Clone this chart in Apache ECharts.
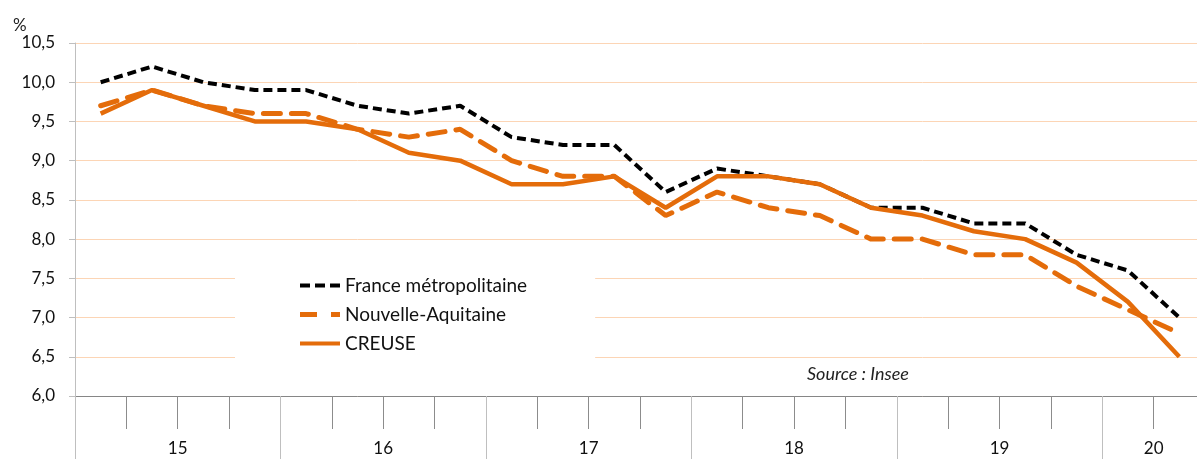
<!DOCTYPE html>
<html>
<head>
<meta charset="utf-8">
<script src="https://cdn.jsdelivr.net/npm/echarts@6/dist/echarts.min.js"></script>
<style>
  html, body { margin: 0; padding: 0; background: #fff; overflow: hidden; }
  /* the plot runs past the right edge of the window, as in the original */
  #chart { width: 1208px; height: 459px; }
</style>
</head>
<body>
<div id="chart"></div>
<script>
// trimestres 2015T1 .. 2020T2
let quarters = ['2015T1', '2015T2', '2015T3', '2015T4', '2016T1', '2016T2', '2016T3', '2016T4',
    '2017T1', '2017T2', '2017T3', '2017T4', '2018T1', '2018T2', '2018T3', '2018T4',
    '2019T1', '2019T2', '2019T3', '2019T4', '2020T1', '2020T2']
let years = ['15', '16', '17', '18', '19', '20']
let quartersPerYear = [4, 4, 4, 4, 4, 2]

let france = [10.0, 10.2, 10.0, 9.9, 9.9, 9.7, 9.6, 9.7, 9.3, 9.2, 9.2, 8.6,
    8.9, 8.8, 8.7, 8.4, 8.4, 8.2, 8.2, 7.8, 7.6, 7.0]
let nouvelleAquitaine = [9.7, 9.9, 9.7, 9.6, 9.6, 9.4, 9.3, 9.4, 9.0, 8.8, 8.8, 8.3,
    8.6, 8.4, 8.3, 8.0, 8.0, 7.8, 7.8, 7.4, 7.1, 6.8]
let creuse = [9.6, 9.9, 9.7, 9.5, 9.5, 9.4, 9.1, 9.0, 8.7, 8.7, 8.8, 8.4,
    8.8, 8.8, 8.7, 8.4, 8.3, 8.1, 8.0, 7.7, 7.2, 6.5]

let font = 'Lato, "Liberation Sans", sans-serif'
let orange = '#E46C0A'

// axe des années : une entrée par limite de trimestre, libellé au milieu de chaque année
let yearAxis = new Array(quarters.length + 1).fill('')
let start = 0
for (let i in years) {
    yearAxis[start + quartersPerYear[i] / 2] = years[i]
    start += quartersPerYear[i]
}

let chart = echarts.init(document.querySelector('#chart'))
let option = {
    animation: false,
    textStyle: { fontFamily: font },
    title: [
        {
            text: '%',
            left: 8,
            top: 12,
            textStyle: { fontSize: 17, fontWeight: 'normal', color: '#222', fontFamily: font }
        },
        {
            text: 'Source : Insee',
            left: 802,
            top: 360,
            textStyle: { fontSize: 18, fontWeight: 'normal', fontStyle: 'italic', color: '#222', fontFamily: font }
        }
    ],
    legend: {
        orient: 'vertical',
        left: 235,
        top: 262,
        padding: [14, 68, 12, 65],
        backgroundColor: '#fff',
        itemWidth: 40,
        itemHeight: 5,
        itemGap: 10,
        textStyle: { fontSize: 19, color: '#111', fontFamily: font },
        data: [
            {
                name: 'France métropolitaine',
                icon: 'path://M0,0h10v4h-10zM15,0h10v4h-10zM30,0h10v4h-10z',
                itemStyle: { color: '#000' }
            },
            {
                name: 'Nouvelle-Aquitaine',
                icon: 'path://M0,0h17v5h-17zM31,0h9v5h-9z',
                itemStyle: { color: orange }
            },
            {
                name: 'CREUSE',
                icon: 'path://M0,0h40v4h-40z',
                itemStyle: { color: orange }
            }
        ]
    },
    grid: {
        left: 75,
        top: 43,
        right: 0,
        bottom: 63
    },
    xAxis: [
        {
            type: 'category',
            data: quarters,
            position: 'bottom',
            boundaryGap: true,
            axisLine: { show: true, lineStyle: { color: '#868686', width: 1 } },
            axisTick: { show: true, interval: 0, length: 33, lineStyle: { color: '#8c8c8c' } },
            axisLabel: { show: false }
        },
        {
            type: 'category',
            data: yearAxis,
            position: 'bottom',
            boundaryGap: false,
            axisLine: { show: false },
            axisTick: {
                show: true,
                interval: function (index) { return index % 4 === 0 },
                length: 66,
                lineStyle: { color: '#bfbfbf' }
            },
            axisLabel: { interval: 0, margin: 44, fontSize: 17, color: '#111', fontFamily: font }
        }
    ],
    yAxis: {
        type: 'value',
        min: 6,
        max: 10.5,
        interval: 0.5,
        axisLine: { show: true, lineStyle: { color: '#bfbfbf' } },
        axisTick: { show: true, length: 6, lineStyle: { color: '#bfbfbf' } },
        splitLine: { lineStyle: { color: '#FCD5B5', width: 1 } },
        axisLabel: {
            margin: 20,
            fontSize: 17,
            color: '#111',
            fontFamily: font,
            formatter: function (v) { return v.toFixed(1).replace('.', ',') }
        }
    },
    series: [
        {
            name: 'France métropolitaine',
            type: 'line',
            data: france,
            symbol: 'none',
            z: 3,
            lineStyle: { color: '#000', width: 4, type: [9, 5] },
            itemStyle: { color: '#000' }
        },
        {
            name: 'Nouvelle-Aquitaine',
            type: 'line',
            data: nouvelleAquitaine,
            symbol: 'none',
            lineStyle: { color: orange, width: 5, type: [17, 11], cap: 'round' },
            itemStyle: { color: orange }
        },
        {
            name: 'CREUSE',
            type: 'line',
            data: creuse,
            symbol: 'none',
            lineStyle: { color: orange, width: 4.5 },
            itemStyle: { color: orange }
        }
    ]
}
chart.setOption(option)
</script>
</body>
</html>
